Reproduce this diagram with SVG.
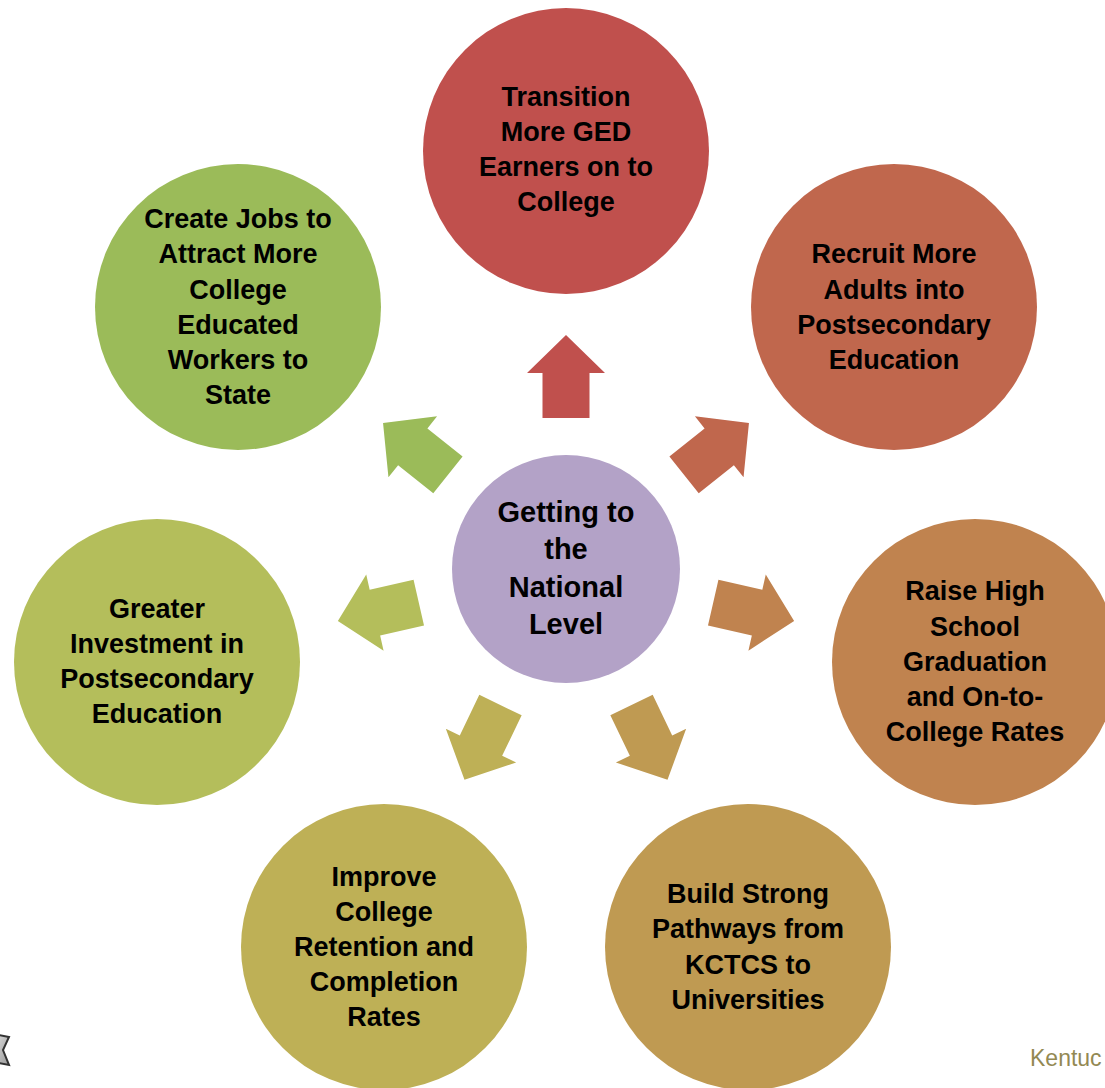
<svg xmlns="http://www.w3.org/2000/svg" xmlns:xlink="http://www.w3.org/1999/xlink" width="1105" height="1088" viewBox="0 0 1105 1088">
  <style>
    .t { font-family: "Liberation Sans", Arial, sans-serif; font-weight: bold; font-size: 27px; fill: #000; text-anchor: middle; }
    .tc { font-family: "Liberation Sans", Arial, sans-serif; font-weight: bold; font-size: 29px; fill: #000; text-anchor: middle; }
    .foot { font-family: "Liberation Sans", Arial, sans-serif; font-size: 23px; fill: #938953; }
  </style>
  <defs>
    <path id="arr" d="M-23.5,-151 V-196 H-39 L0,-234 L39,-196 H23.5 V-151 Z"/>
    <linearGradient id="gray" x1="0" y1="0" x2="1" y2="1">
      <stop offset="0" stop-color="#e0e0e0"/>
      <stop offset="1" stop-color="#9a9a9a"/>
    </linearGradient>
  </defs>
  <rect width="1105" height="1088" fill="#fff"/>

  <g id="connectors">
    <use xlink:href="#arr" href="#arr" fill="#C0504D" transform="translate(566,569) rotate(0)"/>
    <use xlink:href="#arr" href="#arr" fill="#C0674D" transform="translate(566,569) rotate(51.43)"/>
    <use xlink:href="#arr" href="#arr" fill="#C0834F" transform="translate(566,569) rotate(102.86)"/>
    <use xlink:href="#arr" href="#arr" fill="#BF9A52" transform="translate(566,569) rotate(154.29)"/>
    <use xlink:href="#arr" href="#arr" fill="#BEB056" transform="translate(566,569) rotate(205.71)"/>
    <use xlink:href="#arr" href="#arr" fill="#B4BE5B" transform="translate(566,569) rotate(257.14)"/>
    <use xlink:href="#arr" href="#arr" fill="#9BBB59" transform="translate(566,569) rotate(308.57)"/>
  </g>

  <g id="center">
    <circle cx="566" cy="569" r="114" fill="#B3A2C7"/>
    <text class="tc" x="566" y="522">Getting to</text>
    <text class="tc" x="566" y="559">the</text>
    <text class="tc" x="566" y="597">National</text>
    <text class="tc" x="566" y="634">Level</text>
  </g>

  <g id="n1">
    <circle cx="566" cy="151" r="143" fill="#C0504D"/>
    <text class="t" x="566" y="106">Transition</text>
    <text class="t" x="566" y="141">More GED</text>
    <text class="t" x="566" y="176">Earners on to</text>
    <text class="t" x="566" y="211">College</text>
  </g>

  <g id="n2">
    <circle cx="894" cy="307" r="143" fill="#C0674D"/>
    <text class="t" x="894" y="263">Recruit More</text>
    <text class="t" x="894" y="299">Adults into</text>
    <text class="t" x="894" y="334">Postsecondary</text>
    <text class="t" x="894" y="369">Education</text>
  </g>

  <g id="n3">
    <circle cx="975" cy="662" r="143" fill="#C0834F"/>
    <text class="t" x="975" y="600">Raise High</text>
    <text class="t" x="975" y="636">School</text>
    <text class="t" x="975" y="671">Graduation</text>
    <text class="t" x="975" y="706">and On-to-</text>
    <text class="t" x="975" y="741">College Rates</text>
  </g>

  <g id="n4">
    <circle cx="748" cy="947" r="143" fill="#BF9A52"/>
    <text class="t" x="748" y="903">Build Strong</text>
    <text class="t" x="748" y="938">Pathways from</text>
    <text class="t" x="748" y="974">KCTCS to</text>
    <text class="t" x="748" y="1009">Universities</text>
  </g>

  <g id="n5">
    <circle cx="384" cy="947" r="143" fill="#BEB056"/>
    <text class="t" x="384" y="886">Improve</text>
    <text class="t" x="384" y="921">College</text>
    <text class="t" x="384" y="956">Retention and</text>
    <text class="t" x="384" y="991">Completion</text>
    <text class="t" x="384" y="1026">Rates</text>
  </g>

  <g id="n6">
    <circle cx="157" cy="662" r="143" fill="#B4BE5B"/>
    <text class="t" x="157" y="618">Greater</text>
    <text class="t" x="157" y="653">Investment in</text>
    <text class="t" x="157" y="688">Postsecondary</text>
    <text class="t" x="157" y="723">Education</text>
  </g>

  <g id="n7">
    <circle cx="238" cy="307" r="143" fill="#9BBB59"/>
    <text class="t" x="238" y="228">Create Jobs to</text>
    <text class="t" x="238" y="263">Attract More</text>
    <text class="t" x="238" y="299">College</text>
    <text class="t" x="238" y="334">Educated</text>
    <text class="t" x="238" y="369">Workers to</text>
    <text class="t" x="238" y="404">State</text>
  </g>

  <polygon points="-6,1034 9,1037 3,1050 9,1065 -6,1062" fill="url(#gray)" stroke="#333" stroke-width="2"/>
  <text class="foot" x="1030" y="1066">Kentuc</text>
</svg>
